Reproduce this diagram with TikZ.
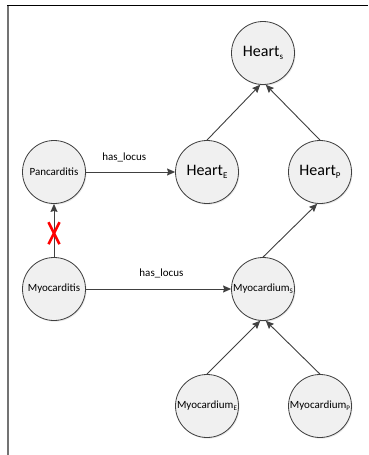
\documentclass[tikz,border=0pt]{standalone}
\usepackage{fontspec}
\setmainfont{Carlito}
\usetikzlibrary{arrows.meta,shadows}
\newcommand{\mysubA}[1]{\raisebox{-0.3ex}{\fontsize{9}{9}\selectfont #1}}
\newcommand{\mysubB}[1]{\raisebox{-0.35ex}{\fontsize{7}{7}\selectfont #1}}
\begin{document}
\begin{tikzpicture}[x=1pt,y=-1pt,
  concept/.style={circle, draw=black!75, line width=0.8pt, fill=black!6,
    minimum size=63pt, inner sep=0pt, font=\fontsize{11}{13}\selectfont,
    drop shadow={shadow xshift=1pt, shadow yshift=-1.2pt, opacity=0.18}},
  big/.style={font=\fontsize{16}{18}\selectfont},
  link/.style={draw=black!75, line width=0.9pt, -{Stealth[length=8pt,width=7pt,inset=1pt]}},
  lab/.style={font=\fontsize{11}{13}\selectfont, text=black}
]
\useasboundingbox (0,0) rectangle (368,455);
\fill[white] (0,0) rectangle (368,455);
% frame
\draw[black!55, line width=2pt] (8,5) -- (8,455);
\draw[black, line width=1pt] (7,5) -- (368,5);

\node[concept, big] (Hs) at (263,53) {Heart\mysubA{s}};
\node[concept] (Pan) at (54,172) {Pancarditis};
\node[concept, big] (HE) at (207,172) {Heart\mysubA{E}};
\node[concept, big] (HP) at (320,172) {Heart\mysubA{P}};
\node[concept] (Myo) at (54,289) {Myocarditis};
\node[concept] (MS) at (263,289) {Myocardium\mysubB{S}};
\node[concept] (ME) at (207,406) {Myocardium\mysubB{E}};
\node[concept] (MP) at (320,406) {Myocardium\mysubB{P}};

\draw[link] (HE.north) -- (Hs.265);
\draw[link] (HP.north) -- (Hs.275);
\draw[link] (Pan.east) -- node[lab, pos=0.43, yshift=15pt] {has\_locus} (HE.west);
\draw[link] (Myo.east) -- node[lab, pos=0.52, yshift=16pt] {has\_locus} (MS.west);
\draw[link] (MS.north) -- (HP.265);
\draw[link] (ME.north) -- (MS.265);
\draw[link] (MP.north) -- (MS.275);
\draw[link] (Myo.north) -- coordinate[pos=0.45] (cross) (Pan.south);
\draw[red, line width=2.6pt] ([xshift=-5.5pt,yshift=11pt]cross) -- ([xshift=5.5pt,yshift=-11pt]cross)
  ([xshift=5.5pt,yshift=11pt]cross) -- ([xshift=-5.5pt,yshift=-11pt]cross);
\end{tikzpicture}
\end{document}
